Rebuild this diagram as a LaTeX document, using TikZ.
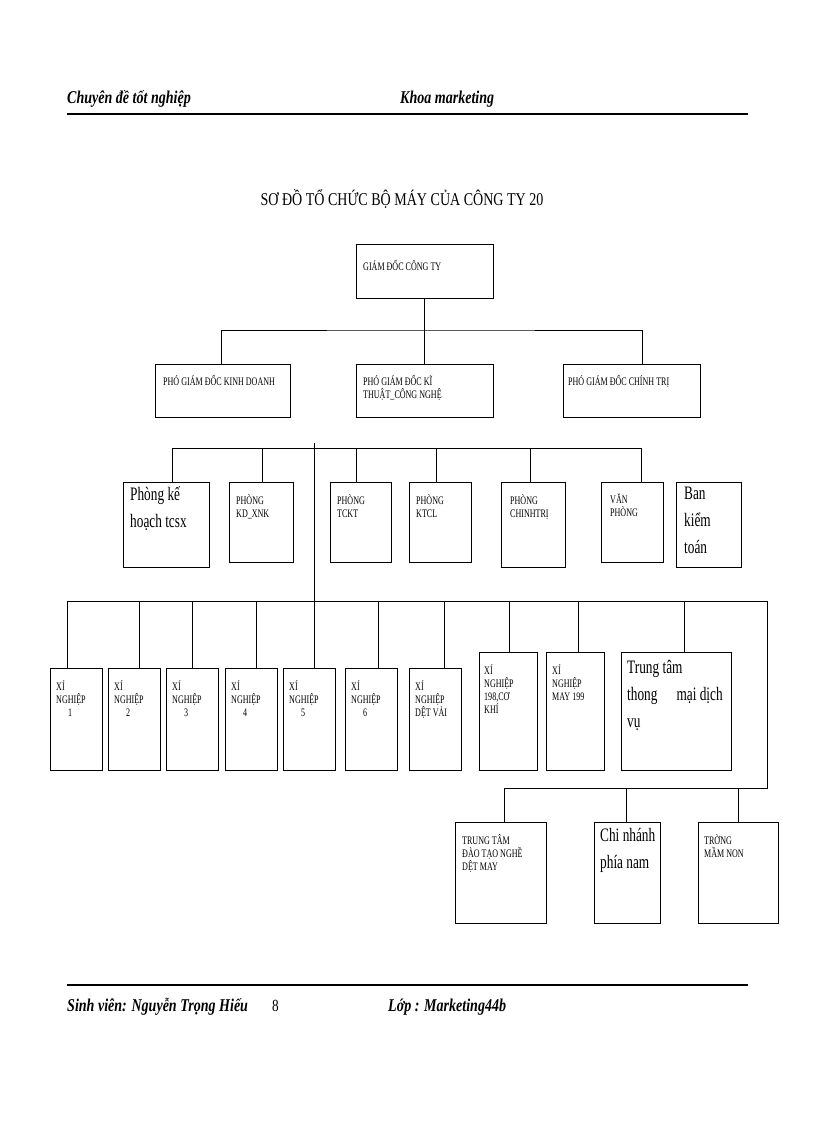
\documentclass[tikz,border=0pt]{standalone}
\usepackage{fontspec}
\setmainfont{Liberation Serif}[FakeStretch=0.78]
\newfontfamily\cond{Liberation Serif}[FakeStretch=0.7]
\begin{document}
\begin{tikzpicture}[x=1pt,y=-1pt,
  box/.style={draw,line width=1pt,inner sep=0pt},
  sm/.style={anchor=north west,inner sep=0pt,align=left,font=\cond\fontsize{11.5}{13}\selectfont},
  bg/.style={anchor=north west,inner sep=0pt,align=left,font=\cond\fontsize{19}{27}\selectfont},
  ln/.style={line width=0.8pt}]
\useasboundingbox (0,0) rectangle (816,1123);
\newcommand{\bx}[6]{%
  \pgfmathsetmacro{\bw}{#4-#2}\pgfmathsetmacro{\bh}{#5-#3}%
  \node[box,minimum width=\bw pt,minimum height=\bh pt] (#1) at ({(#2+#4)/2},{(#3+#5)/2}) {};%
  #6}
% header / footer
\node[anchor=base west,inner sep=0pt,font=\fontsize{18}{18}\selectfont\bfseries\itshape] (h1) at (67,104) {Chuyên đề tốt nghiệp};
\node[anchor=base west,inner sep=0pt,font=\fontsize{18}{18}\selectfont\bfseries\itshape] (h2) at (400,104) {Khoa marketing};
\draw[line width=2.2pt] (67,114) -- (748,114);
\node[anchor=base,inner sep=0pt,font=\fontsize{18}{18}\selectfont] (title) at (402,206) {SƠ ĐỒ TỔ CHỨC BỘ MÁY CỦA CÔNG TY 20};
\draw[line width=2.2pt] (67,985) -- (748,985);
\node[anchor=base west,inner sep=0pt,font=\fontsize{18}{18}\selectfont\bfseries\itshape] (f1) at (67,1011) {Sinh viên: Nguyễn Trọng Hiếu};
\node[anchor=base west,inner sep=0pt,font=\fontsize{17}{17}\selectfont] (f2) at (272,1011) {8};
\node[anchor=base west,inner sep=0pt,font=\fontsize{18}{18}\selectfont\bfseries\itshape] (f3) at (388,1011) {Lớp : Marketing44b};
% level 1,2
\bx{gd}{356}{244}{493}{298}{\node[sm] at (363,260) {GIÁM ĐỐC CÔNG TY};}
\bx{kd}{155}{364}{290}{417}{\node[sm] at (163,375) {PHÓ GIÁM ĐỐC KINH DOANH};}
\bx{kt}{356}{364}{493}{417}{\node[sm] at (363,375) {PHÓ GIÁM ĐỐC KĨ\\THUẬT\_CÔNG NGHỆ};}
\bx{ct}{563}{364}{700}{417}{\node[sm] at (568,375) {PHÓ GIÁM ĐỐC CHÍNH TRỊ};}
\coordinate (b1) at (430,330);
\draw[ln] (gd.south) -- (kt.north);
\draw[ln] ([xshift=-1pt]kd.north) |- (b1) -| ([xshift=11pt]ct.north);
% phong ban
\bx{pk}{123}{482}{209}{567}{\node[bg] at (130,487) {Phòng kế\\hoạch tcsx};}
\bx{kdx}{229}{482}{293}{562}{\node[sm] at (236,494) {PHÒNG\\KD\_XNK};}
\bx{tckt}{330}{482}{391}{562}{\node[sm] at (337,494) {PHÒNG\\TCKT};}
\bx{ktcl}{409}{482}{471}{562}{\node[sm] at (416,494) {PHÒNG\\KTCL};}
\bx{chtr}{501}{482}{565}{567}{\node[sm] at (510,494) {PHÒNG\\CHINHTRỊ};}
\bx{vp}{601}{482}{663}{562}{\node[sm] at (610,494) {VĂN\\PHÒNG};}
\bx{bkt}{676}{482}{741}{567}{\node[bg] at (684,487) {Ban\\kiểm\\toán};}
\coordinate (b2l) at (172,448); \coordinate (b2r) at (641,448);
\draw[ln] (b2l) -- (b2r);
\draw[ln] (b2l) -- (b2l |- pk.north);
\draw[ln] (262,448) -- (kdx.north -| 262,0);
\draw[ln] (356,448) -- (tckt.north -| 356,0);
\draw[ln] (436,448) -- (ktcl.north -| 436,0);
\draw[ln] (530,448) -- (chtr.north -| 530,0);
\draw[ln] (b2r) -- (b2r |- vp.north);
\coordinate (v1) at (314,443); \coordinate (v2) at (314,601);
\draw[ln] (v1) -- (v2);
% xi nghiep
\bx{x1}{50}{668}{102}{770}{\node[sm] at (56,680) {XÍ\\NGHIỆP\\\hspace*{12pt}1};}
\bx{x2}{108}{668}{160}{770}{\node[sm] at (114,680) {XÍ\\NGHIỆP\\\hspace*{12pt}2};}
\bx{x3}{166}{668}{218}{770}{\node[sm] at (172,680) {XÍ\\NGHIỆP\\\hspace*{12pt}3};}
\bx{x4}{225}{668}{277}{770}{\node[sm] at (231,680) {XÍ\\NGHIỆP\\\hspace*{12pt}4};}
\bx{x5}{283}{668}{335}{770}{\node[sm] at (289,680) {XÍ\\NGHIỆP\\\hspace*{12pt}5};}
\bx{x6}{345}{668}{397}{770}{\node[sm] at (351,680) {XÍ\\NGHIỆP\\\hspace*{12pt}6};}
\bx{x7}{409}{668}{461}{770}{\node[sm] at (415,680) {XÍ\\NGHIỆP\\DỆT VẢI};}
\bx{x8}{479}{652}{537}{770}{\node[sm] at (484,664) {XÍ\\NGHIỆP\\198,CƠ\\KHÍ};}
\bx{x9}{546}{652}{604}{770}{\node[sm] at (552,664) {XÍ\\NGHIỆP\\MAY 199};}
\bx{tt}{621}{652}{731}{770}{\node[bg] at (627,660) {Trung tâm\\thong\quad mại dịch\\vụ};}
\coordinate (b3l) at (67,601); \coordinate (b3r) at (767,601);
\draw[ln] (b3l) -- (b3r);
\foreach \n/\xx in {x1/67,x2/139,x3/192,x4/256,x5/314,x6/378,x7/444,x8/509,x9/578,tt/684}
  \draw[ln] (\xx,601) -- (\n.north -| \xx,0);
\coordinate (b4r) at (767,788); \coordinate (b4l) at (504,788);
\draw[ln] (b3r) -- (b4r) -- (b4l);
\bx{dt}{455}{822}{546}{923}{\node[sm] at (462,834) {TRUNG TÂM\\ĐÀO TẠO NGHỀ\\DỆT MAY};}
\bx{cn}{594}{822}{660}{923}{\node[bg] at (600,828) {Chi nhánh\\phía nam};}
\bx{tr}{698}{822}{778}{923}{\node[sm] at (704,834) {TRỜNG\\MẦM NON};}
\draw[ln] (b4l) -- (dt.north -| b4l);
\draw[ln] (626,788) -- (cn.north -| 626,0);
\draw[ln] (738,788) -- (tr.north -| 738,0);
\end{tikzpicture}
\end{document}
